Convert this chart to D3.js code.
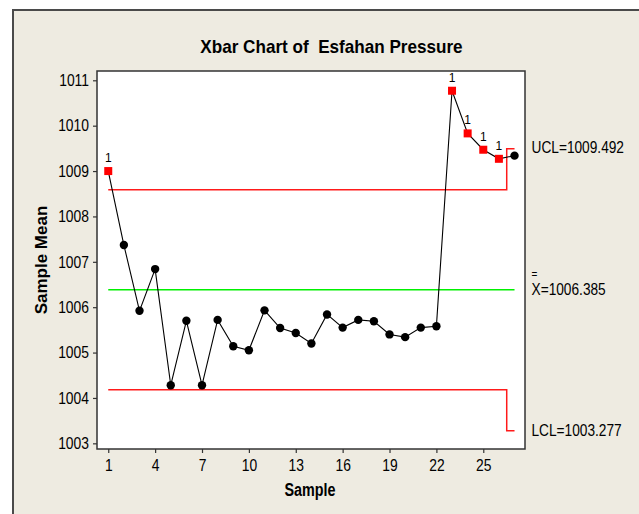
<!DOCTYPE html>
<html>
<head>
<meta charset="utf-8">
<script src="https://cdn.jsdelivr.net/npm/d3@7"></script>
<style>
  html, body { margin: 0; padding: 0; background: #ffffff; }
  svg { display: block; }
  text { font-family: "Liberation Sans", Arial, sans-serif; fill: #000; }
</style>
</head>
<body>
<script>
// ---- data ----
const samples = d3.range(1, 28);
const means = [1009.00, 1007.37, 1005.92, 1006.84, 1004.28, 1005.70, 1004.28, 1005.72, 1005.14,
               1005.05, 1005.93, 1005.54, 1005.43, 1005.20, 1005.84, 1005.55, 1005.72, 1005.69,
               1005.40, 1005.34, 1005.55, 1005.58, 1010.77, 1009.83, 1009.47, 1009.27, 1009.34];
const ucl = [1008.59, 1008.59, 1008.59, 1008.59, 1008.59, 1008.59, 1008.59, 1008.59, 1008.59,
             1008.59, 1008.59, 1008.59, 1008.59, 1008.59, 1008.59, 1008.59, 1008.59, 1008.59,
             1008.59, 1008.59, 1008.59, 1008.59, 1008.59, 1008.59, 1008.59, 1008.59, 1009.492];
const lcl = [1004.18, 1004.18, 1004.18, 1004.18, 1004.18, 1004.18, 1004.18, 1004.18, 1004.18,
             1004.18, 1004.18, 1004.18, 1004.18, 1004.18, 1004.18, 1004.18, 1004.18, 1004.18,
             1004.18, 1004.18, 1004.18, 1004.18, 1004.18, 1004.18, 1004.18, 1004.18, 1003.277];
const centerLine = 1006.385;
const outOfControl = [1, 23, 24, 25, 26];
const xTicks = [1, 4, 7, 10, 13, 16, 19, 22, 25];
const yTicks = [1003, 1004, 1005, 1006, 1007, 1008, 1009, 1010, 1011];
const labels = { title: "Xbar Chart of  Esfahan Pressure", xTitle: "Sample", yTitle: "Sample Mean",
  ucl: "UCL=1009.492", cl: "X=1006.385", lcl: "LCL=1003.277", flag: "1" };

// ---- layout ----
const W = 639, H = 514;
const plot = { left: 97, right: 525, top: 71, bottom: 449 };

const svg = d3.select("body").append("svg").attr("width", W).attr("height", H);

// squeeze text horizontally (reference font is narrow)
function narrow(sel, f) {
  sel.each(function () {
    const w = this.getComputedTextLength();
    d3.select(this).attr("textLength", w * f).attr("lengthAdjust", "spacingAndGlyphs");
  });
  return sel;
}

// outer panel
svg.append("rect").attr("x", 13).attr("y", 10).attr("width", W + 10).attr("height", H + 10)
  .attr("fill", "#eeebe1").attr("stroke", "#4a4a4a").attr("stroke-width", 2);

const x = d3.scaleLinear().domain([0.28, 27.67]).range([plot.left, plot.right]);
const y = d3.scaleLinear().domain([1002.875, 1011.205]).range([plot.bottom, plot.top]);

// plot area
svg.append("rect").attr("x", plot.left).attr("y", plot.top)
  .attr("width", plot.right - plot.left).attr("height", plot.bottom - plot.top)
  .attr("fill", "#ffffff").attr("stroke", "#333").attr("stroke-width", 1.5);

// axes
const yAxis = svg.append("g").attr("transform", `translate(${plot.left},0)`)
  .call(d3.axisLeft(y).tickValues(yTicks).tickFormat(d3.format("d")).tickSize(4).tickPadding(4));
const xAxis = svg.append("g").attr("transform", `translate(0,${plot.bottom})`)
  .call(d3.axisBottom(x).tickValues(xTicks).tickFormat(d3.format("d")).tickSize(4).tickPadding(6));
[yAxis, xAxis].forEach(g => {
  g.select(".domain").remove();
  g.selectAll(".tick line").attr("stroke", "#333").attr("stroke-width", 1.2);
  const t = g.selectAll(".tick text").attr("font-size", 16.5).attr("fill", "#000")
    .attr("font-family", '"Liberation Sans", Arial, sans-serif');
  narrow(t, 0.84);
});

// control lines
const stepLine = d3.line().x((d, i) => x(samples[i])).y(d => y(d)).curve(d3.curveStep);
svg.append("path").datum(ucl).attr("d", stepLine).attr("fill", "none").attr("stroke", "#ff1a1a").attr("stroke-width", 1.5);
svg.append("path").datum(lcl).attr("d", stepLine).attr("fill", "none").attr("stroke", "#ff1a1a").attr("stroke-width", 1.5);
svg.append("line").attr("x1", x(samples[0])).attr("x2", x(samples[samples.length - 1]))
  .attr("y1", y(centerLine)).attr("y2", y(centerLine)).attr("stroke", "#00f000").attr("stroke-width", 1.5);

// data line
const dataLine = d3.line().x((d, i) => x(samples[i])).y(d => y(d));
svg.append("path").datum(means).attr("d", dataLine).attr("fill", "none").attr("stroke", "#000").attr("stroke-width", 1.1);

// markers
const pts = samples.map((s, i) => ({ s, v: means[i], out: outOfControl.includes(s) }));
svg.selectAll("circle.pt").data(pts.filter(d => !d.out)).enter().append("circle")
  .attr("class", "pt").attr("cx", d => x(d.s)).attr("cy", d => y(d.v)).attr("r", 4.2).attr("fill", "#000");
svg.selectAll("rect.pt").data(pts.filter(d => d.out)).enter().append("rect")
  .attr("class", "pt").attr("x", d => x(d.s) - 4).attr("y", d => y(d.v) - 4)
  .attr("width", 8).attr("height", 8).attr("fill", "#ff0000");
svg.selectAll("text.flag").data(pts.filter(d => d.out)).enter().append("text")
  .attr("class", "flag").attr("x", d => x(d.s)).attr("y", d => y(d.v) - 9)
  .attr("text-anchor", "middle").attr("font-size", 12).text(labels.flag);

// titles
narrow(svg.append("text").attr("x", 331.5).attr("y", 53).attr("text-anchor", "middle")
  .attr("font-size", 19).attr("font-weight", "bold")
  .style("white-space", "pre").text(labels.title), 0.9);
narrow(svg.append("text").attr("x", 310).attr("y", 496).attr("text-anchor", "middle")
  .attr("font-size", 17.5).attr("font-weight", "bold").text(labels.xTitle), 0.82);
narrow(svg.append("text").attr("transform", "translate(47,260) rotate(-90)").attr("text-anchor", "middle")
  .attr("font-size", 17).attr("font-weight", "bold").text(labels.yTitle), 1.0);

// limit labels (font is tall and narrow: stretch vertically instead of squeezing)
function limitLabel(px, py, txt) {
  svg.append("text").attr("transform", `translate(${px},${py}) scale(1,1.24)`)
    .attr("font-size", 13.7).text(txt);
}
limitLabel(531.5, 152.5, labels.ucl);
limitLabel(531.5, 294.5, labels.cl);
svg.append("text").attr("x", 531.6).attr("y", 277.5).attr("font-size", 10).text("=");
limitLabel(531.5, 435.5, labels.lcl);
</script>
</body>
</html>
